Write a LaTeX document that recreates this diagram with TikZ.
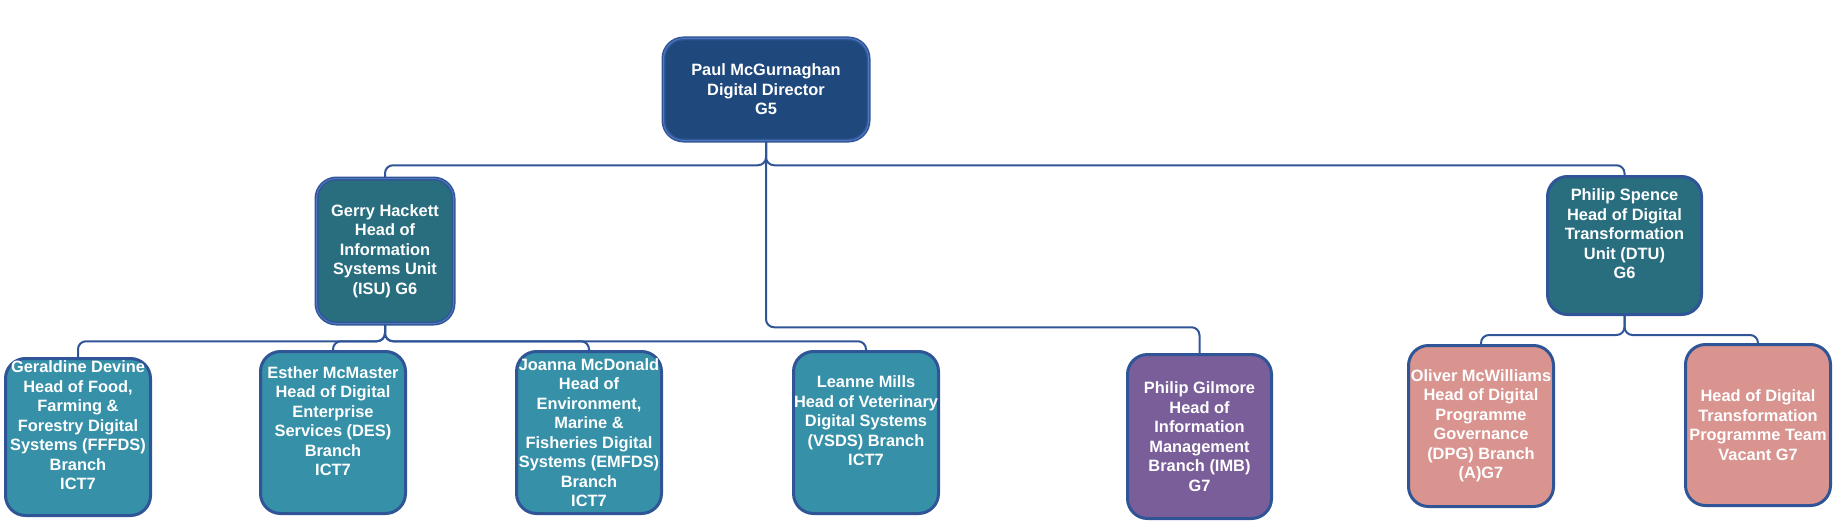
\documentclass[tikz,border=0pt]{standalone}
\usepackage{fontspec}
\setmainfont{Liberation Sans}
\definecolor{lineblue}{RGB}{47,85,151}
\definecolor{lightblue}{RGB}{79,120,190}
\definecolor{dirfill}{RGB}{31,73,125}
\definecolor{unitfill}{RGB}{40,110,127}
\definecolor{branchfill}{RGB}{53,144,168}
\definecolor{imbfill}{RGB}{122,94,153}
\definecolor{progfill}{RGB}{217,148,144}
\begin{document}
\begin{tikzpicture}[x=1pt,y=-1pt,
  box/.style={draw=lineblue, line width=3pt, rounded corners=20pt, text=white, align=center,
    font=\bfseries\fontsize{16.4}{19.5}\selectfont, inner sep=0pt},
  dblbox/.style={box, line width=1.5pt, double=lightblue, double distance=1pt},
  raised/.style={text depth=23pt},
  link/.style={draw=lineblue, line width=2pt, rounded corners=8pt}]
\useasboundingbox (0,0) rectangle (1846,527);
\node[dblbox, fill=dirfill, minimum width=205pt, minimum height=102pt] (dir) at (766,89.5) {Paul McGurnaghan\\Digital Director\\G5};
\node[dblbox, fill=unitfill, minimum width=137pt, minimum height=145pt] (isu) at (385,251) {Gerry Hackett\\Head of\\Information\\Systems Unit\\(ISU) G6};
\node[box, raised, fill=unitfill, minimum width=154pt, minimum height=138pt] (dtu) at (1624.5,245.5) {Philip Spence\\Head of Digital\\Transformation\\Unit (DTU)\\G6};
\node[box, raised, fill=branchfill, minimum width=145pt, minimum height=157pt] (fffds) at (78,437) {Geraldine Devine\\Head of Food,\\Farming \&\\Forestry Digital\\Systems (FFFDS)\\Branch\\ICT7};
\node[box, raised, fill=branchfill, minimum width=145pt, minimum height=162pt] (des) at (333,432.5) {Esther McMaster\\Head of Digital\\Enterprise\\Services (DES)\\Branch\\ICT7};
\node[box, fill=branchfill, minimum width=145pt, minimum height=162pt] (emfds) at (589,432.5) {Joanna McDonald\\Head of\\Environment,\\Marine \&\\Fisheries Digital\\Systems (EMFDS)\\Branch\\ICT7};
\node[box, raised, fill=branchfill, minimum width=145pt, minimum height=162pt] (vsds) at (866,432.5) {Leanne Mills\\Head of Veterinary\\Digital Systems\\(VSDS) Branch\\ICT7};
\node[box, fill=imbfill, minimum width=144pt, minimum height=164pt] (imb) at (1199.5,436.5) {Philip Gilmore\\Head of\\Information\\Management\\Branch (IMB)\\G7};
\node[box, fill=progfill, minimum width=145pt, minimum height=161pt] (dpg) at (1481,426) {Oliver McWilliams\\Head of Digital\\Programme\\Governance\\(DPG) Branch\\(A)G7};
\node[box, fill=progfill, minimum width=145pt, minimum height=161pt] (dtp) at (1758,425) {Head of Digital\\Transformation\\Programme Team\\Vacant G7};
\draw[link] (dir.south) -- ++(0,24) -| (isu.north);
\draw[link] (dir.south) -- ++(0,24) -| (dtu.north);
\draw[link] (dir.south) -- ++(0,186) -| (imb.north);
\foreach \b in {fffds,des,emfds,vsds}
  \draw[link] (isu.south) -- ++(0,17) -| (\b.north);
\foreach \b in {dpg,dtp}
  \draw[link] (dtu.south) -- ++(0,19) -| (\b.north);
\end{tikzpicture}
\end{document}
